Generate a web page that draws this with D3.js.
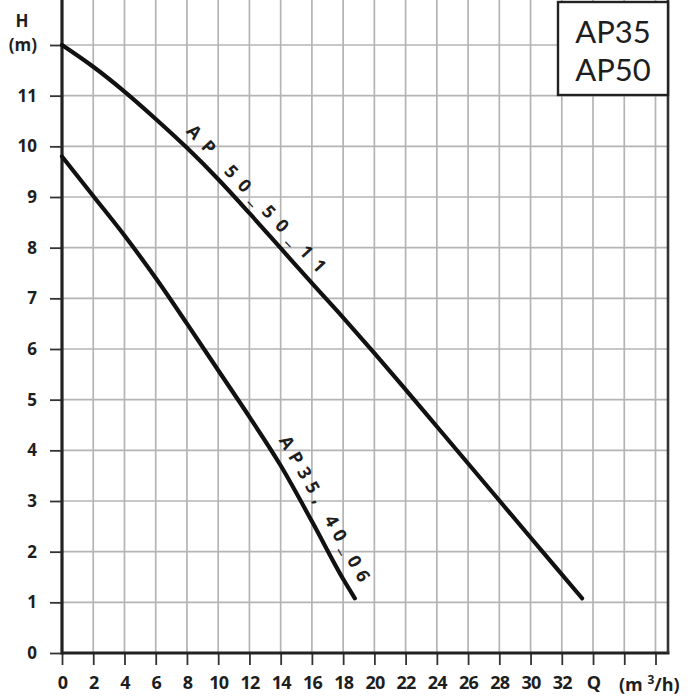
<!DOCTYPE html>
<html><head><meta charset="utf-8">
<script src="https://cdn.jsdelivr.net/npm/d3@7"></script>
<style>body{margin:0;background:#fff} svg{display:block}</style>
</head><body>
<svg id="chart" width="700" height="700"></svg>
<script>
// ---- data ----
const ap50Q = [0, 2, 4, 6, 8, 10, 12, 14, 16, 18, 20, 22, 24, 26, 28, 30, 32, 33.3];
const ap50H = [12.0, 11.57, 11.08, 10.54, 9.97, 9.35, 8.68, 7.99, 7.3, 6.62, 5.92, 5.2, 4.47, 3.74, 3.01, 2.28, 1.55, 1.08];
const ap35Q = [0, 2, 4, 6, 8, 10, 12, 14, 16, 18, 18.75];
const ap35H = [9.8, 9.02, 8.24, 7.4, 6.5, 5.58, 4.66, 3.7, 2.6, 1.46, 1.08];
const curveNames = ["AP 50_50_11", "AP35, 40_06"];
const xTicks = [0, 2, 4, 6, 8, 10, 12, 14, 16, 18, 20, 22, 24, 26, 28, 30, 32, 34, 36, 38];
const xTickLabels = ["0","2","4","6","8","10","12","14","16","18","20","22","24","26","28","30","32","Q","",""];
const yTicks = [0, 1, 2, 3, 4, 5, 6, 7, 8, 9, 10, 11, 12];
const yTickLabels = ["0","1","2","3","4","5","6","7","8","9","10","11","(m)"];
const legendLines = ["AP35", "AP50"];

// ---- layout ----
const svg = d3.select("#chart");
const mLeft = 62, mRight = 668, mBottom = 653, mTop = 0;
const x = d3.scaleLinear().domain([0, 38.8]).range([mLeft, mRight]);
const y = d3.scaleLinear().domain([0, 12]).range([mBottom, 45]);
const txt = "#1e1e1e";

// gridlines
svg.append("g").selectAll("line").data(xTicks.filter(d => d > 0)).join("line")
  .attr("x1", d => x(d)).attr("x2", d => x(d)).attr("y1", mTop).attr("y2", mBottom)
  .attr("stroke", "#b4b4b4").attr("stroke-width", 1.7);
svg.append("g").selectAll("line").data(yTicks.filter(d => d > 0)).join("line")
  .attr("x1", mLeft).attr("x2", mRight).attr("y1", d => y(d)).attr("y2", d => y(d))
  .attr("stroke", "#b4b4b4").attr("stroke-width", 1.7);

// axes
const yAxis = d3.axisLeft(y).tickValues(yTicks).tickSize(12).tickPadding(13)
  .tickFormat((d, i) => yTickLabels[i]);
const gy = svg.append("g").attr("transform", `translate(${mLeft},0)`).call(yAxis);
gy.select(".domain").remove();
gy.selectAll(".tick line").attr("stroke", "#333").attr("stroke-width", 1.8);
gy.selectAll(".tick text").attr("fill", txt).style("font-family", "'Open Sans', sans-serif")
  .style("font-weight", 700).style("font-size", "17px");

const xAxis = d3.axisBottom(x).tickValues(xTicks).tickSize(12).tickPadding(11)
  .tickFormat((d, i) => xTickLabels[i]);
const gx = svg.append("g").attr("transform", `translate(0,${mBottom})`).call(xAxis);
gx.select(".domain").remove();
gx.selectAll(".tick line").attr("stroke", "#333").attr("stroke-width", 1.8);
gx.selectAll(".tick text").attr("fill", txt).style("font-family", "'Open Sans', sans-serif")
  .style("font-weight", 700).style("font-size", "18px").attr("letter-spacing", "-0.8");

// axis frame lines
svg.append("line").attr("x1", mLeft).attr("x2", mLeft).attr("y1", mTop).attr("y2", mBottom + 1.5)
  .attr("stroke", "#222").attr("stroke-width", 3.2);
svg.append("line").attr("x1", mLeft).attr("x2", mRight + 1.5).attr("y1", mBottom).attr("y2", mBottom)
  .attr("stroke", "#222").attr("stroke-width", 3.2);
svg.append("line").attr("x1", mRight).attr("x2", mRight).attr("y1", mTop).attr("y2", mBottom)
  .attr("stroke", "#333").attr("stroke-width", 2.6);

// axis titles
svg.append("text").attr("x", 22).attr("y", 27).attr("text-anchor", "middle")
  .attr("fill", txt).style("font-family", "'Open Sans', sans-serif").style("font-weight", 700)
  .style("font-size", "17px").text("H");
const unit = svg.append("text").attr("x", 619).attr("y", mBottom + 38)
  .attr("fill", txt).style("font-family", "'Open Sans', sans-serif").style("font-weight", 700)
  .style("font-size", "18px");
unit.append("tspan").text("(m ");
unit.append("tspan").attr("dy", -7).style("font-size", "12px").text("3");
unit.append("tspan").attr("dy", 7).text("/h)");

// curves
const line = d3.line().x(d => x(d[0])).y(d => y(d[1])).curve(d3.curveMonotoneX);
const series = [d3.zip(ap50Q, ap50H), d3.zip(ap35Q, ap35H)];
svg.append("g").selectAll("path").data(series).join("path")
  .attr("d", line).attr("fill", "none").attr("stroke", "#111").attr("stroke-width", 4.2)
  .attr("stroke-linecap", "round");

// curve labels along the lines
const interp = [d3.scaleLinear().domain(ap50Q).range(ap50H), d3.scaleLinear().domain(ap35Q).range(ap35H)];
const labelSpan = [[7.4, 15.9], [13.2, 18.4]];
const labelOffset = [11, 12];
curveNames.forEach((name, i) => {
  const [q0, q1] = labelSpan[i];
  const p0 = [x(q0), y(interp[i](q0))], p1 = [x(q1), y(interp[i](q1))];
  const dx = p1[0] - p0[0], dy = p1[1] - p0[1];
  const len = Math.hypot(dx, dy);
  const ang = Math.atan2(dy, dx);
  const nx = Math.sin(ang) * labelOffset[i], ny = -Math.cos(ang) * labelOffset[i];
  svg.append("text")
    .attr("transform", `translate(${p0[0] + nx},${p0[1] + ny}) rotate(${ang * 180 / Math.PI})`)
    .attr("textLength", len).attr("lengthAdjust", "spacing")
    .attr("fill", txt).style("font-family", "'Open Sans', sans-serif").style("font-weight", 700)
    .style("font-size", "18px").text(name);
});

// legend box
svg.append("rect").attr("x", 558).attr("y", 2).attr("width", 110).attr("height", 93)
  .attr("fill", "#fff").attr("stroke", "#222").attr("stroke-width", 2.4);
svg.append("g").selectAll("text").data(legendLines).join("text")
  .attr("x", 613).attr("y", (d, i) => 43 + i * 38).attr("text-anchor", "middle")
  .attr("fill", txt).style("font-family", "Lato, sans-serif").style("font-size", "31px")
  .text(d => d);
</script>
</body></html>
